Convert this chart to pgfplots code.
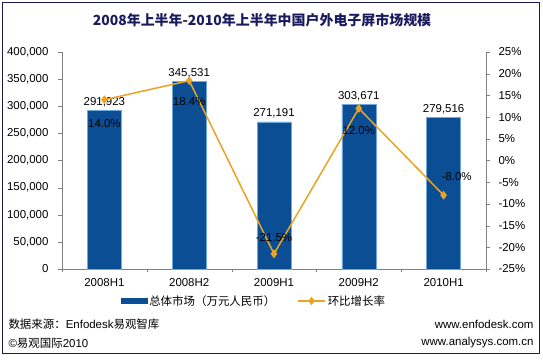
\documentclass[border=0pt]{standalone}
\usepackage{pgfplots}
\pgfplotsset{compat=1.18}
\usepackage{fontspec}
\setmainfont{Liberation Sans}
\newfontfamily\cjk{Noto Sans CJK SC}
\definecolor{barblue}{HTML}{0B4E94}
\definecolor{baredge}{HTML}{6FA8DC}
\definecolor{lineorange}{HTML}{EBA323}
\definecolor{framecol}{HTML}{1C1C4C}
\definecolor{titlecol}{HTML}{1A1A5E}
\definecolor{axisgray}{HTML}{808080}
\newcommand{\lbl}{\fontsize{11.5}{13}\selectfont}
\begin{document}
\begin{tikzpicture}[x=1bp,y=1bp]
\fill[white] (0,0) rectangle (543,359);
\draw[framecol,line width=1.2bp] (2.5,5.5) rectangle (539.5,356.5);
\node[font=\cjk\bfseries\fontsize{14}{16}\selectfont, text=titlecol] at (262,339) {2008年上半年-2010年上半年中国户外电子屏市场规模};
\begin{axis}[
  at={(62bp,90bp)}, anchor=south west, scale only axis,
  width=424bp, height=217bp,
  xmin=-0.5, xmax=4.5, ymin=0, ymax=400000,
  axis x line*=bottom, axis y line*=left,
  xtick={0,1,2,3,4},
  xticklabels={2008H1,2008H2,2009H1,2009H2,2010H1},
  major x tick style={draw=none},
  minor xtick={-0.5,0.5,1.5,2.5,3.5,4.5},
  minor tick length=3bp,
  ytick={0,50000,100000,150000,200000,250000,300000,350000,400000},
  scaled y ticks=false,
  /pgf/number format/.cd, fixed, 1000 sep={,}, assume math mode=true,
  /pgfplots/.cd,
  tick align=outside,
  major tick length=4bp,
  axis line style={axisgray},
  tick style={axisgray},
  ticklabel style={font=\lbl},
  yticklabel style={xshift=-6bp},
  xticklabel style={yshift=-2bp},
  ybar, bar width=34bp,
  nodes near coords,
  nodes near coords style={font=\lbl, /pgf/number format/.cd, fixed, 1000 sep={,}, assume math mode=true},
  legend style={at={(0.4525,-0.147)}, anchor=center, draw=none, fill=none,
    legend columns=2, font=\cjk\lbl,
    /tikz/every even column/.append style={column sep=20bp}},
]
\addplot[fill=barblue, draw=baredge, line width=0.6bp,
  legend image code/.code={\fill[barblue] (0bp,-2.5bp) rectangle (26bp,2.5bp);}]
  coordinates {(0,291923) (1,345531) (2,271191) (3,303671) (4,279516)};
\addlegendentry{总体市场（万元人民币）}
\addlegendimage{lineorange, line width=1.5bp, mark=diamond*, mark size=3bp,
  legend image code/.code={\draw[lineorange, line width=1.5bp] (0bp,0bp) -- (27bp,0bp);
  \fill[lineorange] (13.5bp,0bp) +(0,3bp) -- +(2.2bp,0) -- +(0,-3bp) -- +(-2.2bp,0) -- cycle;}}
\addlegendentry{环比增长率}
\end{axis}
\begin{axis}[
  at={(62bp,90bp)}, anchor=south west, scale only axis,
  width=424bp, height=217bp,
  xmin=-0.5, xmax=4.5, ymin=-25, ymax=25,
  axis x line=none, axis y line*=right,
  ytick={-25,-20,-15,-10,-5,0,5,10,15,20,25},
  /pgf/number format/assume math mode=true,
  yticklabel={\pgfmathprintnumber{\tick}\%},
  yticklabel style={xshift=5bp},
  tick align=outside,
  major tick length=4bp,
  axis line style={axisgray},
  tick style={axisgray},
  ticklabel style={font=\lbl},
  clip=false,
]
\addplot[lineorange, line width=1.5bp, mark=diamond*, mark size=3.2bp, mark options={fill=lineorange}]
  coordinates {(0,14.0) (1,18.4) (2,-21.5) (3,12.0) (4,-8.0)};
\node[font=\lbl] at (axis cs:0,14.0) [yshift=-24bp] {14.0\%};
\node[font=\lbl] at (axis cs:1,18.4) [yshift=-21bp] {18.4\%};
\node[font=\lbl] at (axis cs:2,-21.5) [yshift=16bp] {-21.5\%};
\node[font=\lbl] at (axis cs:3,12.0) [yshift=-22bp] {12.0\%};
\node[font=\lbl] at (axis cs:4,-8.0) [xshift=13bp, yshift=19bp] {-8.0\%};
\end{axis}
\node[anchor=west, font=\lbl] at (5,35) {{\cjk 数据来源：}Enfodesk{\cjk 易观智库}};
\node[anchor=west, font=\lbl] at (5,16) {©{\cjk 易观国际}2010};
\node[anchor=east, font=\lbl] at (537,35) {www.enfodesk.com};
\node[anchor=east, font=\lbl] at (537,16) {www.analysys.com.cn};
\end{tikzpicture}
\end{document}
